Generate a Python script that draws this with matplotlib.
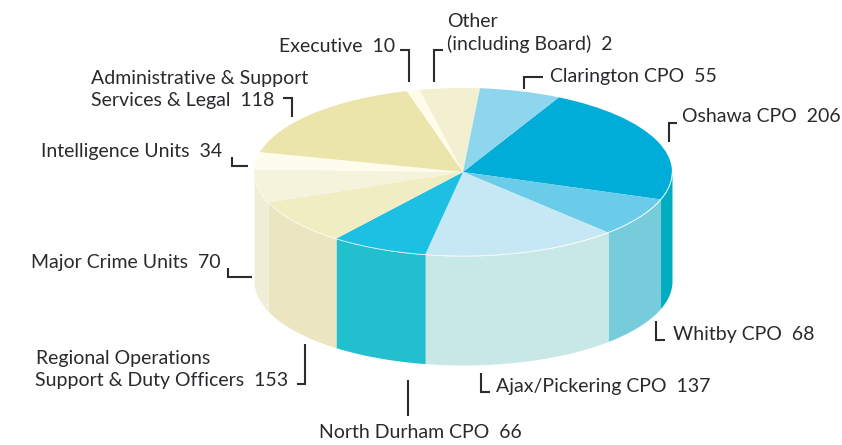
import matplotlib
matplotlib.use('Agg')
import matplotlib.pyplot as plt
import numpy as np

plt.rcParams['font.family'] = ['Lato', 'DejaVu Sans']

W, H = 842, 445

# slices clockwise from the Oshawa/Clarington edge
names = ['Oshawa CPO', 'Whitby CPO', 'Ajax/Pickering CPO', 'North Durham CPO',
         'Regional', 'Major Crime Units', 'Intelligence Units', 'Administrative',
         'Executive', 'Other', 'Clarington CPO']
# the printed figures
counts = [206, 68, 137, 66, 153, 70, 34, 118, 10, 2, 55]
# slice sizes as drawn (the drawing does not follow all the printed figures)
slice_sizes = [206, 68, 137, 68, 79, 58, 30, 153, 9, 42, 57]
top_colors = ['#00acd8', '#6bcce9', '#c6e8f4', '#1dbfe2', '#f1edc3', '#f5f3dc',
              '#fefded', '#ebe4ab', '#fffdea', '#f3f0d2', '#8dd6ee']
side_colors = ['#00acc0', '#76ccda', '#c8e8e6', '#22bfce', '#ebe6c0', '#f1eed8',
               '#f1eed8', '#ebe4ab', '#fffdea', '#f3f0d2', '#8dd6ee']

start_angle = 62.7
cx, cy, rx, ry = 463, 172, 209, 84
depth = 109

fig = plt.figure(figsize=(W / 100, H / 100), dpi=100)

# pie axes: one data unit = the ellipse radius, so the circle gets squashed
ax = fig.add_axes([0, 0, 1, 1])
ax.pie(slice_sizes, colors=top_colors, startangle=start_angle, counterclock=False,
       radius=1, wedgeprops={'linewidth': 0, 'zorder': 3})
ax.set_aspect('auto')
ax.set_xlim((0 - cx) / rx, (W - cx) / rx)
ax.set_ylim((cy - H) / ry, (cy - 0) / ry)
ax.axis('off')

# side wall, only the part facing the viewer (180..360 degrees)
edges = start_angle - np.cumsum([0] + slice_sizes) / np.sum(slice_sizes) * 360
d = depth / ry
for i in range(len(slice_sizes)):
    for shift in (0, 360, 720):
        a0 = max(edges[i + 1] + shift, 180)
        a1 = min(edges[i] + shift, 360)
        if a1 > a0:
            t = np.radians(np.linspace(a0, a1, 80))
            ax.fill_between(np.cos(t), np.sin(t) - d, np.sin(t), color=side_colors[i],
                            linewidth=0, zorder=1)

t = np.radians(np.linspace(180, 360, 300))
ax.plot(np.cos(t), np.sin(t), color='white', lw=0.6, alpha=0.6, zorder=4)

# overlay in picture pixels for labels and leader lines
lab = fig.add_axes([0, 0, 1, 1], facecolor='none')
lab.set_xlim(0, W)
lab.set_ylim(H, 0)
lab.axis('off')

leaders = [
    ([400, 409, 409], [50, 50, 82]),
    ([443, 434, 434], [50, 50, 82]),
    ([283, 292, 292], [98, 98, 117]),
    ([232, 232, 248], [157, 166, 166]),
    ([228, 228, 252], [268, 277, 277]),
    ([305, 305, 297], [344, 384, 384]),
    ([408, 408], [380, 416]),
    ([481, 481, 490], [373, 392, 392]),
    ([656, 656, 665], [321, 340, 340]),
    ([543, 524, 524], [77, 77, 89]),
    ([677, 669, 669], [123, 123, 142]),
]
for xs, ys in leaders:
    lab.plot(xs, ys, color='#2b2b30', lw=1.5, solid_joinstyle='miter', solid_capstyle='butt')

labels = [
    (279, 52, f'Executive  {counts[8]}'),
    (447, 27, 'Other'),
    (447, 50, f'(including Board)  {counts[9]}'),
    (91, 84, 'Administrative & Support'),
    (91, 106, f'Services & Legal  {counts[7]}'),
    (41, 157, f'{names[6]}  {counts[6]}'),
    (31, 268, f'{names[5]}  {counts[5]}'),
    (36, 364, 'Regional Operations'),
    (35, 386, f'Support & Duty Officers  {counts[4]}'),
    (319, 438, f'{names[3]}  {counts[3]}'),
    (496, 392, f'{names[2]}  {counts[2]}'),
    (673, 340, f'{names[1]}  {counts[1]}'),
    (550, 82, f'{names[10]}  {counts[10]}'),
    (682, 122, f'{names[0]}  {counts[0]}'),
]
for x, y, s in labels:
    lab.text(x, y, s, fontsize=14, color='#2a2a2e', ha='left', va='baseline')

fig.savefig('out.png', dpi=100)
